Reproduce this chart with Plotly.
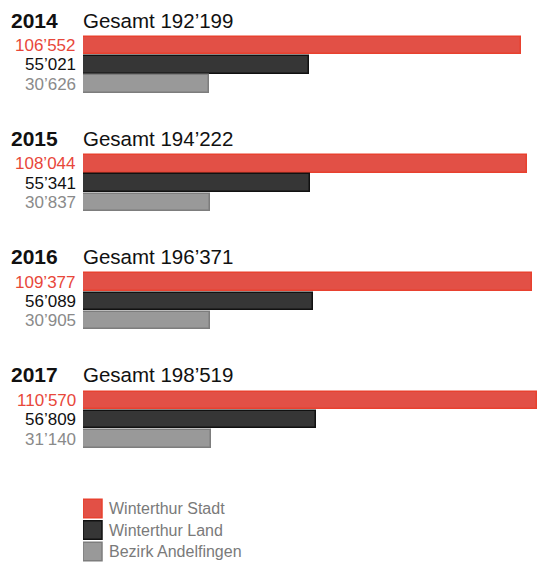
import plotly.graph_objects as go

years = ["2014", "2015", "2016", "2017"]
series_names = ["Winterthur Stadt", "Winterthur Land", "Bezirk Andelfingen"]
stadt = [106552, 108044, 109377, 110570]
land = [55021, 55341, 56089, 56809]
andelfingen = [30626, 30837, 30905, 31140]
series_values = [stadt, land, andelfingen]

fills = ["#e25046", "#363636", "#999999"]
lines = ["#e8412f", "#111111", "#7d7d7d"]
label_colors = ["#e8473a", "#111111", "#8a8a8a"]

W, H = 538, 562
LEFT = 83
FONT = "Liberation Sans, Arial, sans-serif"

# layout constants (pixel-like y units, figure coordinates)
first_center = 45.5
group_step = 118.3
bar_step = 19.3
bar_h = 17.5
title_off = -25.5
legend_centers = [508.5, 530, 551.5]


def fmt(v):
    return f"{v:,}".replace(",", "\u2019")


fig = go.Figure()
annotations = []
shapes = []

for si, (name, vals) in enumerate(zip(series_names, series_values)):
    ys = [first_center + g * group_step + si * bar_step for g in range(len(years))]
    fig.add_trace(go.Bar(
        x=vals, y=ys, orientation="h", width=bar_h,
        marker=dict(color=fills[si], line=dict(color=lines[si], width=1.5)),
        name=name, showlegend=False, hoverinfo="x",
    ))
    for v, y in zip(vals, ys):
        annotations.append(dict(
            x=0, y=y, xref="x", yref="y", text=fmt(v), showarrow=False,
            xanchor="right", yanchor="middle", xshift=-5,
            font=dict(family=FONT, size=17, color=label_colors[si]),
        ))

for g, yr in enumerate(years):
    total = sum(s[g] for s in series_values)
    ty = first_center + g * group_step + title_off
    annotations.append(dict(
        x=0, y=ty, xref="x", yref="y", text=f"<b>{yr}</b>", showarrow=False,
        xanchor="left", yanchor="middle", xshift=-LEFT + 9,
        font=dict(family=FONT, size=21, color="#111111"),
    ))
    annotations.append(dict(
        x=0, y=ty, xref="x", yref="y", text=f"Gesamt {fmt(total)}", showarrow=False,
        xanchor="left", yanchor="middle", xshift=-2,
        font=dict(family=FONT, size=20.5, color="#111111"),
    ))

for si, name in enumerate(series_names):
    cy = legend_centers[si]
    shapes.append(dict(
        type="rect", xref="x", yref="y", xsizemode="pixel", xanchor=0,
        x0=0, x1=19, y0=cy - 9.3, y1=cy + 9.3,
        fillcolor=fills[si], line=dict(color=lines[si], width=1.5),
    ))
    annotations.append(dict(
        x=0, y=cy, xref="x", yref="y", text=name, showarrow=False,
        xanchor="left", yanchor="middle", xshift=24,
        font=dict(family=FONT, size=16, color="#7a7a7a"),
    ))

fig.update_layout(
    width=W, height=H,
    margin=dict(l=LEFT, r=0, t=0, b=0),
    paper_bgcolor="white", plot_bgcolor="white",
    xaxis=dict(range=[0, 110800], visible=False, fixedrange=True),
    yaxis=dict(range=[H, 0], visible=False, fixedrange=True),
    annotations=annotations, shapes=shapes,
    showlegend=False, bargap=0,
)

fig.write_html(
    "out.html",
    config={"displayModeBar": False},
    post_script="document.body.style.margin='0';document.body.style.overflow='hidden';",
)
